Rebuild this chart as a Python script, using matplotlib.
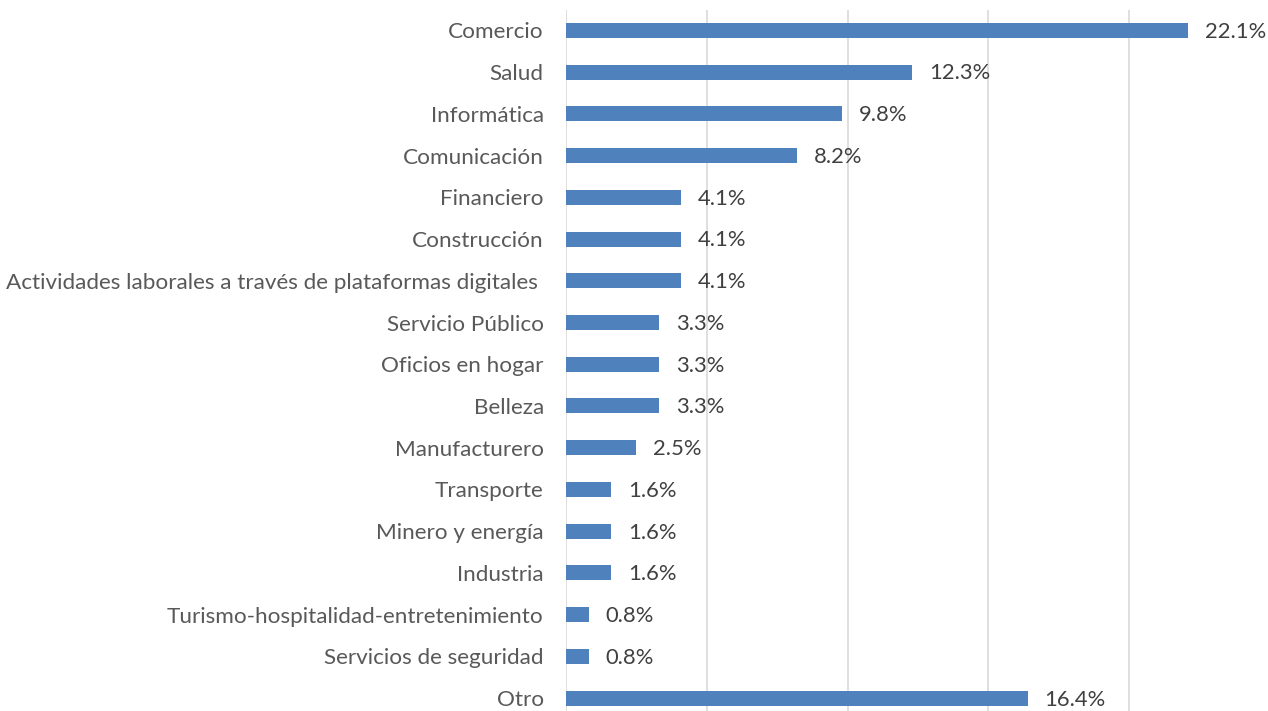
import matplotlib
matplotlib.use("Agg")
import matplotlib.pyplot as plt

categories = ["Comercio", "Salud", "Informática", "Comunicación", "Financiero",
              "Construcción", "Actividades laborales a través de plataformas digitales ",
              "Servicio Público", "Oficios en hogar", "Belleza", "Manufacturero",
              "Transporte", "Minero y energía", "Industria",
              "Turismo-hospitalidad-entretenimiento", "Servicios de seguridad", "Otro"]
values = [22.1, 12.3, 9.8, 8.2, 4.1, 4.1, 4.1, 3.3, 3.3, 3.3, 2.5,
          1.6, 1.6, 1.6, 0.8, 0.8, 16.4]

plt.rcParams['font.family'] = ['Lato', 'DejaVu Sans']

fig = plt.figure(figsize=(12.68, 7.11), dpi=100)
ax = fig.add_axes([566 / 1268, 1 - 719 / 711, 704 / 1268, 709.5 / 711])

pos = list(range(len(categories)))
ax.barh(pos, values, height=0.36, color='#4F81BD', zorder=3)

for p, v in zip(pos, values):
    ax.annotate(f"{v:.1f}%", (v, p), xytext=(12, -1), textcoords='offset points',
                va='center', ha='left', fontsize=15.8, color='#404040')

ax.set_xlim(0, 25)
ax.set_ylim(len(categories) - 0.5, -0.5)
ax.set_xticks([0, 5, 10, 15, 20, 25])
ax.set_xticklabels([])
ax.set_yticks(pos)
ax.set_yticklabels(categories, fontsize=16.2, color='#595959')
ax.tick_params(axis='both', length=0)
ax.tick_params(axis='y', pad=16)
ax.grid(axis='x', color='#D9D9D9', linewidth=1.2, zorder=0)
for s in ax.spines.values():
    s.set_visible(False)

fig.savefig("out.png", dpi=100)
